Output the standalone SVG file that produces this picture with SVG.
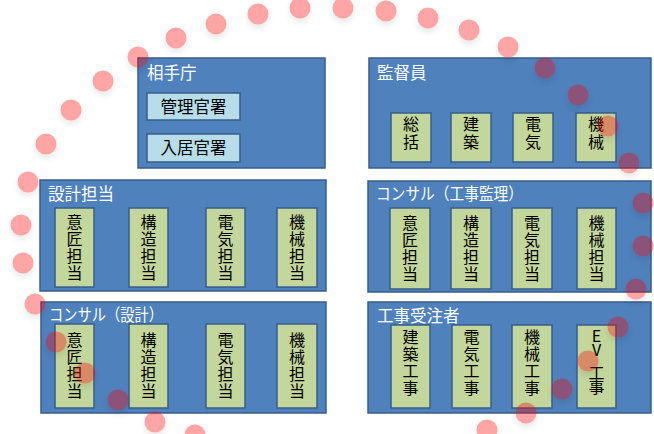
<svg xmlns="http://www.w3.org/2000/svg" width="654" height="434" viewBox="0 0 654 434">
<style>
.box{fill:#4f81bd;stroke:#385d8a;stroke-width:1.5}
.lb{fill:#b7dee8;stroke:#385d8a;stroke-width:1.5}
.gb{fill:#c3d69b;stroke:#385d8a;stroke-width:1.5}
.hd{font-family:"Noto Sans CJK JP","Noto Sans",sans-serif;font-size:16.5px;fill:#ffffff}
.t{font-family:"Noto Sans CJK JP","Noto Sans",sans-serif;font-size:16.5px;fill:#000000;text-anchor:middle}
.v{font-family:"Noto Sans CJK JP","Noto Sans",sans-serif;font-size:16px;fill:#000000;text-anchor:middle;writing-mode:vertical-rl;text-orientation:upright;letter-spacing:1px}
.v2{letter-spacing:2px}
.v3{letter-spacing:-2px}
.dot{fill:#ff0000;opacity:0.35;filter:url(#sh)}
</style>
<defs>
<filter id="sh" x="-50%" y="-50%" width="200%" height="220%">
<feDropShadow dx="0" dy="4" stdDeviation="3" flood-color="#000" flood-opacity="0.25"/>
</filter>
</defs>
<rect width="654" height="434" fill="#ffffff"/>

<g id="aiteCho">
<rect class="box" x="138" y="58" width="187" height="110"/>
<text class="hd" x="147" y="79">相手庁</text>
<g id="kanriKansho"><rect class="lb" x="147" y="93" width="93" height="27"/><text class="t" x="193.5" y="112.5">管理官署</text></g>
<g id="nyukyoKansho"><rect class="lb" x="147" y="134" width="93" height="28"/><text class="t" x="193.5" y="154">入居官署</text></g>
</g>

<g id="kantokuin">
<rect class="box" x="369" y="58" width="282" height="110"/>
<text class="hd" x="377" y="79">監督員</text>
<g id="k1"><rect class="gb" x="391" y="113" width="40" height="49"/><text class="v v2" x="411" y="134">総括</text></g>
<g id="k2"><rect class="gb" x="451" y="113" width="40" height="49"/><text class="v v2" x="471" y="134">建築</text></g>
<g id="k3"><rect class="gb" x="513" y="113" width="40" height="49"/><text class="v v2" x="533" y="134">電気</text></g>
<g id="k4"><rect class="gb" x="576" y="113" width="40" height="49"/><text class="v v2" x="596" y="134">機械</text></g>
</g>

<g id="sekkeiTanto">
<rect class="box" x="40" y="180" width="286" height="111"/>
<text class="hd" x="48" y="200">設計担当</text>
<g id="s1"><rect class="gb" x="55" y="208" width="39" height="79"/><text class="v" x="74.5" y="248">意匠担当</text></g>
<g id="s2"><rect class="gb" x="129" y="208" width="39" height="79"/><text class="v" x="148.5" y="248">構造担当</text></g>
<g id="s3"><rect class="gb" x="206" y="208" width="39" height="79"/><text class="v" x="225.5" y="248">電気担当</text></g>
<g id="s4"><rect class="gb" x="277" y="208" width="40" height="79"/><text class="v" x="297" y="248">機械担当</text></g>
</g>

<g id="consulKanri">
<rect class="box" x="368" y="181" width="283" height="111"/>
<text class="hd" x="376" y="200" textLength="147" lengthAdjust="spacingAndGlyphs">コンサル（工事監理）</text>
<g id="c1"><rect class="gb" x="390" y="208" width="40" height="81"/><text class="v" x="410" y="249">意匠担当</text></g>
<g id="c2"><rect class="gb" x="451" y="208" width="40" height="81"/><text class="v" x="471" y="249">構造担当</text></g>
<g id="c3"><rect class="gb" x="512" y="208" width="40" height="81"/><text class="v" x="532" y="249">電気担当</text></g>
<g id="c4"><rect class="gb" x="577" y="208" width="39" height="81"/><text class="v" x="596.5" y="249">機械担当</text></g>
</g>

<g id="consulSekkei">
<rect class="box" x="41" y="302" width="285" height="111"/>
<text class="hd" x="49" y="321" textLength="114" lengthAdjust="spacingAndGlyphs">コンサル（設計）</text>
<g id="d1"><rect class="gb" x="55" y="324" width="39" height="84"/><text class="v" x="74.5" y="366">意匠担当</text></g>
<g id="d2"><rect class="gb" x="129" y="324" width="39" height="84"/><text class="v" x="148.5" y="366">構造担当</text></g>
<g id="d3"><rect class="gb" x="206" y="324" width="39" height="84"/><text class="v" x="225.5" y="366">電気担当</text></g>
<g id="d4"><rect class="gb" x="277" y="324" width="40" height="84"/><text class="v" x="297" y="366">機械担当</text></g>
</g>

<g id="kojiJuchusha">
<rect class="box" x="368" y="302" width="283" height="111"/>
<text class="hd" x="377" y="322">工事受注者</text>
<g id="j1"><rect class="gb" x="391" y="325" width="39" height="83"/><text class="v" x="410.5" y="363">建築工事</text></g>
<g id="j2"><rect class="gb" x="452" y="325" width="39" height="83"/><text class="v" x="471.5" y="363">電気工事</text></g>
<g id="j3"><rect class="gb" x="512" y="325" width="40" height="83"/><text class="v" x="532" y="363">機械工事</text></g>
<g id="j4"><rect class="gb" x="577" y="325" width="39" height="83"/><text class="v v3" x="596.5" y="342">EV</text><text class="v v3" x="596.5" y="379">工事</text></g>
</g>

<g id="connectors"></g>

<g id="dots">
<circle class="dot" cx="28" cy="182" r="10.5"/>
<circle class="dot" cx="46" cy="144" r="10.5"/>
<circle class="dot" cx="71" cy="110" r="10.5"/>
<circle class="dot" cx="103" cy="81" r="10.5"/>
<circle class="dot" cx="138" cy="57" r="10.5"/>
<circle class="dot" cx="176" cy="38" r="10.5"/>
<circle class="dot" cx="216" cy="24" r="10.5"/>
<circle class="dot" cx="258" cy="14" r="10.5"/>
<circle class="dot" cx="300" cy="8" r="10.5"/>
<circle class="dot" cx="343" cy="8" r="10.5"/>
<circle class="dot" cx="386" cy="11" r="10.5"/>
<circle class="dot" cx="428" cy="18" r="10.5"/>
<circle class="dot" cx="469" cy="30" r="10.5"/>
<circle class="dot" cx="508" cy="47" r="10.5"/>
<circle class="dot" cx="545" cy="68" r="10.5"/>
<circle class="dot" cx="578" cy="95" r="10.5"/>
<circle class="dot" cx="608" cy="126" r="10.5"/>
<circle class="dot" cx="629" cy="163" r="10.5"/>
<circle class="dot" cx="643" cy="203" r="10.5"/>
<circle class="dot" cx="643" cy="246" r="10.5"/>
<circle class="dot" cx="636" cy="289" r="10.5"/>
<circle class="dot" cx="618" cy="327" r="10.5"/>
<circle class="dot" cx="588" cy="361" r="10.5"/>
<circle class="dot" cx="562" cy="389" r="10.5"/>
<circle class="dot" cx="526" cy="413" r="10.5"/>
<circle class="dot" cx="487" cy="430" r="10.5"/>
<circle class="dot" cx="195" cy="435" r="10.5"/>
<circle class="dot" cx="155" cy="422" r="10.5"/>
<circle class="dot" cx="118" cy="400" r="10.5"/>
<circle class="dot" cx="85" cy="373" r="10.5"/>
<circle class="dot" cx="56" cy="342" r="10.5"/>
<circle class="dot" cx="35" cy="304" r="10.5"/>
<circle class="dot" cx="23" cy="263" r="10.5"/>
<circle class="dot" cx="21" cy="225" r="10.5"/>
</g>
</svg>
